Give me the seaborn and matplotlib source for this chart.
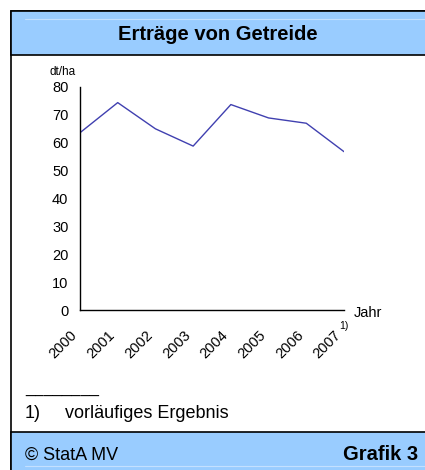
import matplotlib
matplotlib.use("Agg")
import matplotlib.pyplot as plt
import seaborn as sns
import pandas as pd
from matplotlib.patches import Rectangle
from matplotlib.lines import Line2D
from matplotlib.transforms import ScaledTranslation

years = ["2000", "2001", "2002", "2003", "2004", "2005", "2006", "2007"]
values = [63.6, 74.4, 65.0, 58.8, 73.7, 68.9, 67.0, 56.8]
yticks = [0, 10, 20, 30, 40, 50, 60, 70, 80]

sns.set_style("white")
plt.rcParams["font.family"] = ["Liberation Sans", "DejaVu Sans"]
plt.rcParams["text.color"] = "black"
plt.rcParams["xtick.color"] = "black"
plt.rcParams["ytick.color"] = "black"
plt.rcParams["axes.labelcolor"] = "black"

W, H = 425, 470
fig = plt.figure(figsize=(W / 100, H / 100), dpi=100)

def fx(x):
    return x / W

def fy(y):
    return 1 - y / H

# frame and bands
fig.patches.append(Rectangle((fx(10.5), fy(469)), fx(430), fy(11) - fy(469),
                             transform=fig.transFigure, facecolor="white",
                             edgecolor="black", linewidth=1.2, zorder=-2))
fig.patches.append(Rectangle((fx(10.5), fy(55)), fx(430), fy(11) - fy(55),
                             transform=fig.transFigure, facecolor="#99CCFF",
                             edgecolor="black", linewidth=1.2, zorder=-1))
fig.patches.append(Rectangle((fx(10.5), fy(475)), fx(430), fy(432) - fy(475),
                             transform=fig.transFigure, facecolor="#99CCFF",
                             edgecolor="black", linewidth=1.2, zorder=-1))
fig.lines.append(Line2D([fx(25), fx(425)], [fy(19), fy(19)], transform=fig.transFigure,
                        color="#C4E0FF", linewidth=0.8, zorder=-0.5))
fig.lines.append(Line2D([fx(25), fx(425)], [fy(466), fy(466)], transform=fig.transFigure,
                        color="#C4E0FF", linewidth=0.8, zorder=-0.5))

fig.text(fx(218), fy(34), "Erträge von Getreide", ha="center", va="center",
         fontsize=14.5, fontweight="bold", zorder=3)

ax = fig.add_axes([fx(80), fy(310), fx(344) - fx(80), fy(87) - fy(310)])
ax.set_zorder(5)
ax.set_facecolor("none")
df = pd.DataFrame({"x": list(range(len(years))), "y": values})
sns.lineplot(data=df, x="x", y="y", ax=ax, color="#4040B0", linewidth=1.0)

ax.set_xlim(0, len(years) - 1)
ax.set_ylim(0, 80)
ax.tick_params(axis="both", direction="out", length=3.3, width=1, color="black")
ax.tick_params(axis="y", pad=5)
ax.tick_params(axis="x", pad=13)
ax.set_yticks(yticks)
ax.set_yticklabels([str(v) for v in yticks], fontsize=10.5)
ax.set_xticks(range(len(years)))
ax.set_xticklabels(years, rotation=45, ha="right", va="center",
                   rotation_mode="anchor", fontsize=10.5)
shift = ScaledTranslation(-5 / 100, 0, fig.dpi_scale_trans)
for lab in ax.get_xticklabels():
    lab.set_transform(lab.get_transform() + shift)
ax.set_xlabel("")
ax.set_ylabel("")
for s in ["top", "right"]:
    ax.spines[s].set_visible(False)
for s in ["left", "bottom"]:
    ax.spines[s].set_color("black")
    ax.spines[s].set_linewidth(1.0)

fig.text(fx(50), fy(72), "dt/ha", ha="left", va="center", fontsize=8.5)
fig.text(fx(354), fy(313), "Jahr", ha="left", va="center", fontsize=10.5)
fig.text(fx(339), fy(326), "1)", ha="left", va="center", fontsize=7.5)

fig.text(fx(25), fy(397), "________", ha="left", va="bottom", fontsize=12)
fig.text(fx(25), fy(413), "1)", ha="left", va="center", fontsize=13)
fig.text(fx(65), fy(413), "vorläufiges Ergebnis", ha="left", va="center", fontsize=13)

fig.text(fx(25), fy(455), "© StatA MV", ha="left", va="center", fontsize=13, zorder=3)
fig.text(fx(418), fy(455), "Grafik 3", ha="right", va="center", fontsize=14.5,
         fontweight="bold", zorder=3)

fig.savefig("out.png", dpi=100)
